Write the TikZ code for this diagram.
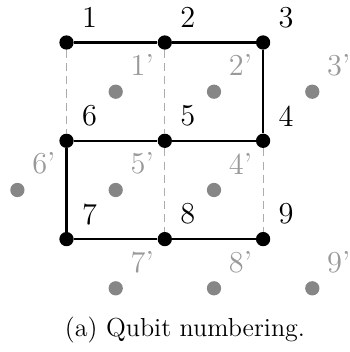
\documentclass[tikz,border=0pt]{standalone}
\begin{document}
\begin{tikzpicture}[x=0.4342pt,y=-0.4342pt,
  qb/.style={circle,fill=black,inner sep=0pt,minimum size=6.2pt},
  gq/.style={circle,fill=gray!95,inner sep=0pt,minimum size=6.2pt},
  ql/.style={inner sep=0pt,font=\fontsize{13.2}{15}\selectfont},
  gl/.style={inner sep=0pt,text=gray!80,font=\fontsize{13.2}{15}\selectfont},
  edge/.style={line width=1pt},
  dedge/.style={gray!65,line width=0.45pt,dash pattern=on 3.5pt off 2.2pt}]
\useasboundingbox (0,0) rectangle (350,352);
% black qubits
\node[qb] (q1) at (66.5,42.5) {};
\node[qb] (q2) at (164.8,42.5) {};
\node[qb] (q3) at (263.1,42.5) {};
\node[qb] (q6) at (66.5,140.8) {};
\node[qb] (q5) at (164.8,140.8) {};
\node[qb] (q4) at (263.1,140.8) {};
\node[qb] (q7) at (66.5,239.1) {};
\node[qb] (q8) at (164.8,239.1) {};
\node[qb] (q9) at (263.1,239.1) {};
% dashed connectors
\draw[dedge] (q1) -- (q6);
\draw[dedge] (q2) -- (q5);
\draw[dedge] (q5) -- (q8);
\draw[dedge] (q4) -- (q9);
% solid connectors
\draw[edge] (q1) -- (q2);
\draw[edge] (q2) -- (q3);
\draw[edge] (q3) -- (q4);
\draw[edge] (q4) -- (q5);
\draw[edge] (q5) -- (q6);
\draw[edge] (q6) -- (q7);
\draw[edge] (q7) -- (q8);
\draw[edge] (q8) -- (q9);
% gray qubits
\node[gq] (p1) at (115.7,91.7) {};
\node[gq] (p2) at (214,91.7) {};
\node[gq] (p3) at (312.3,91.7) {};
\node[gq] (p6) at (17.4,190) {};
\node[gq] (p5) at (115.7,190) {};
\node[gq] (p4) at (214,190) {};
\node[gq] (p7) at (115.7,288.3) {};
\node[gq] (p8) at (214,288.3) {};
\node[gq] (p9) at (312.3,288.3) {};
% labels
\foreach \i in {1,...,9} {
  \node[ql] (l\i) at ([xshift=23*0.4342pt,yshift=25*0.4342pt]q\i.center) {\i};
  \node[gl] (m\i) at ([xshift=26.5*0.4342pt,yshift=26.5*0.4342pt]p\i.center) {\i'};
}
% caption
\node[inner sep=0pt,anchor=base,font=\fontsize{11.3}{13}\selectfont] (cap) at (185,336) {(a) Qubit numbering.};
\end{tikzpicture}
\end{document}
